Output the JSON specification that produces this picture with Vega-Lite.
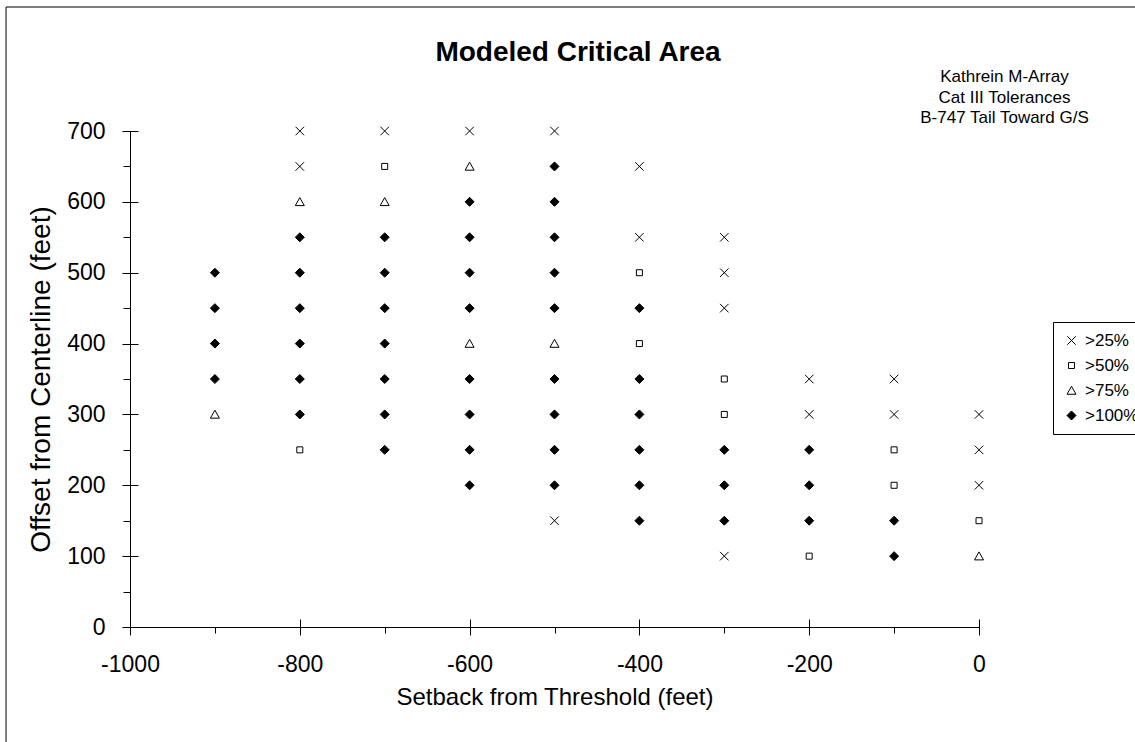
{
  "$schema": "https://vega.github.io/schema/vega-lite/v6.json",
  "width": 849,
  "height": 496,
  "autosize": {"type": "none"},
  "padding": {"left": 130, "top": 131, "right": 156, "bottom": 115},
  "background": "white",
  "title": {
    "text": "Modeled Critical Area",
    "fontSize": 28,
    "fontWeight": "bold",
    "font": "Liberation Sans",
    "color": "black",
    "anchor": "middle",
    "dx": 23.5,
    "baseline": "alphabetic",
    "offset": -82
  },
  "config": {"font": "Liberation Sans", "view": {"stroke": null}},
  "data": {
    "values": [
      {"setback": -900, "offset": 500, "level": ">100%"},
      {"setback": -900, "offset": 450, "level": ">100%"},
      {"setback": -900, "offset": 400, "level": ">100%"},
      {"setback": -900, "offset": 350, "level": ">100%"},
      {"setback": -900, "offset": 300, "level": ">75%"},
      {"setback": -800, "offset": 700, "level": ">25%"},
      {"setback": -800, "offset": 650, "level": ">25%"},
      {"setback": -800, "offset": 600, "level": ">75%"},
      {"setback": -800, "offset": 550, "level": ">100%"},
      {"setback": -800, "offset": 500, "level": ">100%"},
      {"setback": -800, "offset": 450, "level": ">100%"},
      {"setback": -800, "offset": 400, "level": ">100%"},
      {"setback": -800, "offset": 350, "level": ">100%"},
      {"setback": -800, "offset": 300, "level": ">100%"},
      {"setback": -800, "offset": 250, "level": ">50%"},
      {"setback": -700, "offset": 700, "level": ">25%"},
      {"setback": -700, "offset": 650, "level": ">50%"},
      {"setback": -700, "offset": 600, "level": ">75%"},
      {"setback": -700, "offset": 550, "level": ">100%"},
      {"setback": -700, "offset": 500, "level": ">100%"},
      {"setback": -700, "offset": 450, "level": ">100%"},
      {"setback": -700, "offset": 400, "level": ">100%"},
      {"setback": -700, "offset": 350, "level": ">100%"},
      {"setback": -700, "offset": 300, "level": ">100%"},
      {"setback": -700, "offset": 250, "level": ">100%"},
      {"setback": -600, "offset": 700, "level": ">25%"},
      {"setback": -600, "offset": 650, "level": ">75%"},
      {"setback": -600, "offset": 600, "level": ">100%"},
      {"setback": -600, "offset": 550, "level": ">100%"},
      {"setback": -600, "offset": 500, "level": ">100%"},
      {"setback": -600, "offset": 450, "level": ">100%"},
      {"setback": -600, "offset": 400, "level": ">75%"},
      {"setback": -600, "offset": 350, "level": ">100%"},
      {"setback": -600, "offset": 300, "level": ">100%"},
      {"setback": -600, "offset": 250, "level": ">100%"},
      {"setback": -600, "offset": 200, "level": ">100%"},
      {"setback": -500, "offset": 700, "level": ">25%"},
      {"setback": -500, "offset": 650, "level": ">100%"},
      {"setback": -500, "offset": 600, "level": ">100%"},
      {"setback": -500, "offset": 550, "level": ">100%"},
      {"setback": -500, "offset": 500, "level": ">100%"},
      {"setback": -500, "offset": 450, "level": ">100%"},
      {"setback": -500, "offset": 400, "level": ">75%"},
      {"setback": -500, "offset": 350, "level": ">100%"},
      {"setback": -500, "offset": 300, "level": ">100%"},
      {"setback": -500, "offset": 250, "level": ">100%"},
      {"setback": -500, "offset": 200, "level": ">100%"},
      {"setback": -500, "offset": 150, "level": ">25%"},
      {"setback": -400, "offset": 650, "level": ">25%"},
      {"setback": -400, "offset": 550, "level": ">25%"},
      {"setback": -400, "offset": 500, "level": ">50%"},
      {"setback": -400, "offset": 450, "level": ">100%"},
      {"setback": -400, "offset": 400, "level": ">50%"},
      {"setback": -400, "offset": 350, "level": ">100%"},
      {"setback": -400, "offset": 300, "level": ">100%"},
      {"setback": -400, "offset": 250, "level": ">100%"},
      {"setback": -400, "offset": 200, "level": ">100%"},
      {"setback": -400, "offset": 150, "level": ">100%"},
      {"setback": -300, "offset": 550, "level": ">25%"},
      {"setback": -300, "offset": 500, "level": ">25%"},
      {"setback": -300, "offset": 450, "level": ">25%"},
      {"setback": -300, "offset": 350, "level": ">50%"},
      {"setback": -300, "offset": 300, "level": ">50%"},
      {"setback": -300, "offset": 250, "level": ">100%"},
      {"setback": -300, "offset": 200, "level": ">100%"},
      {"setback": -300, "offset": 150, "level": ">100%"},
      {"setback": -300, "offset": 100, "level": ">25%"},
      {"setback": -200, "offset": 350, "level": ">25%"},
      {"setback": -200, "offset": 300, "level": ">25%"},
      {"setback": -200, "offset": 250, "level": ">100%"},
      {"setback": -200, "offset": 200, "level": ">100%"},
      {"setback": -200, "offset": 150, "level": ">100%"},
      {"setback": -200, "offset": 100, "level": ">50%"},
      {"setback": -100, "offset": 350, "level": ">25%"},
      {"setback": -100, "offset": 300, "level": ">25%"},
      {"setback": -100, "offset": 250, "level": ">50%"},
      {"setback": -100, "offset": 200, "level": ">50%"},
      {"setback": -100, "offset": 150, "level": ">100%"},
      {"setback": -100, "offset": 100, "level": ">100%"},
      {"setback": 0, "offset": 300, "level": ">25%"},
      {"setback": 0, "offset": 250, "level": ">25%"},
      {"setback": 0, "offset": 200, "level": ">25%"},
      {"setback": 0, "offset": 150, "level": ">50%"},
      {"setback": 0, "offset": 100, "level": ">75%"}
    ]
  },
  "layer": [
    {
      "data": {"values": [{}]},
      "mark": {"type": "rect", "fill": null, "stroke": "black", "strokeWidth": 1, "clip": false},
      "encoding": {
        "x": {"datum": -1146, "type": "quantitative", "scale": {"domain": [-1000, 0], "nice": false, "zero": false}, "axis": null},
        "x2": {"datum": 300},
        "y": {"datum": 875, "type": "quantitative", "scale": {"domain": [0, 700], "nice": false, "zero": false}, "axis": null},
        "y2": {"datum": -300}
      }
    },
    {
      "mark": {"type": "point", "opacity": 0},
      "encoding": {
        "x": {
          "field": "setback", "type": "quantitative",
          "scale": {"domain": [-1000, 0], "nice": false, "zero": false},
          "axis": {"orient": "bottom", "values": [-900, -700, -500, -300, -100], "tickSize": 6, "labels": false, "title": null, "domain": true, "domainColor": "black", "domainWidth": 1, "tickColor": "black", "tickWidth": 1, "grid": false}
        },
        "y": {
          "field": "offset", "type": "quantitative",
          "scale": {"domain": [0, 700], "nice": false, "zero": false},
          "axis": {"orient": "left", "values": [50, 150, 250, 350, 450, 550, 650], "tickSize": 7, "labels": false, "title": null, "domain": true, "domainColor": "black", "domainWidth": 1, "tickColor": "black", "tickWidth": 1, "grid": false}
        }
      }
    },
    {
      "mark": {"type": "point", "opacity": 1, "strokeWidth": 1, "size": 100},
      "encoding": {
        "x": {
          "field": "setback", "type": "quantitative",
          "scale": {"domain": [-1000, 0], "nice": false, "zero": false},
          "axis": {
            "orient": "bottom",
            "values": [-1000, -800, -600, -400, -200, 0], "tickSize": 16, "offset": -8, "domain": false, "grid": false,
            "tickColor": "black", "tickWidth": 1,
            "labelExpr": "'' + datum.value", "labelFontSize": 23, "labelPadding": 18, "labelColor": "black", "labelFlush": false, "labelOverlap": false, "labelBound": false,
            "title": "Setback from Threshold (feet)", "titleFontSize": 24, "titleFontWeight": "normal", "titleColor": "black", "titlePadding": 9
          }
        },
        "y": {
          "field": "offset", "type": "quantitative",
          "scale": {"domain": [0, 700], "nice": false, "zero": false},
          "axis": {
            "orient": "left",
            "values": [0, 100, 200, 300, 400, 500, 600, 700], "tickSize": 16, "offset": -8, "domain": false, "grid": false,
            "tickColor": "black", "tickWidth": 1,
            "labelExpr": "'' + datum.value", "labelFontSize": 23, "labelPadding": 17, "labelColor": "black", "labelFlush": false, "labelOverlap": false, "labelBound": false,
            "title": "Offset from Centerline (feet)", "titleFontSize": 28, "titleFontWeight": "normal", "titleColor": "black", "titlePadding": 11
          }
        },
        "shape": {
          "field": "level", "type": "nominal",
          "scale": {
            "domain": [">25%", ">50%", ">75%", ">100%"],
            "range": [
              "M-0.85,-0.85L0.85,0.85M0.85,-0.85L-0.85,0.85",
              "M-0.6,-0.6L0.6,-0.6L0.6,0.6L-0.6,0.6Z",
              "M0,-0.85L0.9,0.75L-0.9,0.75Z",
              "M0,-0.9L0.9,0L0,0.9L-0.9,0Z"
            ]
          },
          "legend": {
            "title": null, "orient": "none", "legendX": 923, "legendY": 191,
            "padding": 10, "rowPadding": 7, "labelFontSize": 17, "labelColor": "black", "labelOffset": 5,
            "strokeColor": "black", "fillColor": "white", "symbolStrokeWidth": 1, "symbolSize": 100
          }
        },
        "fill": {
          "field": "level", "type": "nominal",
          "scale": {"domain": [">25%", ">50%", ">75%", ">100%"], "range": ["white", "white", "white", "black"]},
          "legend": {
            "title": null, "orient": "none", "legendX": 923, "legendY": 191,
            "padding": 10, "rowPadding": 7, "labelFontSize": 17, "labelColor": "black", "labelOffset": 5,
            "strokeColor": "black", "fillColor": "white", "symbolStrokeWidth": 1, "symbolSize": 100
          }
        },
        "stroke": {
          "field": "level", "type": "nominal",
          "scale": {"domain": [">25%", ">50%", ">75%", ">100%"], "range": ["black", "black", "black", "black"]},
          "legend": {
            "title": null, "orient": "none", "legendX": 923, "legendY": 191,
            "padding": 10, "rowPadding": 7, "labelFontSize": 17, "labelColor": "black", "labelOffset": 5,
            "strokeColor": "black", "fillColor": "white", "symbolStrokeWidth": 1, "symbolSize": 100
          }
        }
      }
    },
    {
      "data": {"values": [{"note": "Kathrein M-Array\nCat III Tolerances\nB-747 Tail Toward G/S"}]},
      "mark": {"type": "text", "align": "center", "baseline": "alphabetic", "fontSize": 17, "lineHeight": 20.5, "lineBreak": "\n", "color": "black", "clip": false},
      "encoding": {
        "x": {"datum": 30, "type": "quantitative", "scale": {"domain": [-1000, 0], "nice": false, "zero": false}, "axis": null},
        "y": {"datum": 769, "type": "quantitative", "scale": {"domain": [0, 700], "nice": false, "zero": false}, "axis": null},
        "text": {"field": "note", "type": "nominal"}
      }
    }
  ],
  "resolve": {"axis": {"x": "independent", "y": "independent"}}
}
